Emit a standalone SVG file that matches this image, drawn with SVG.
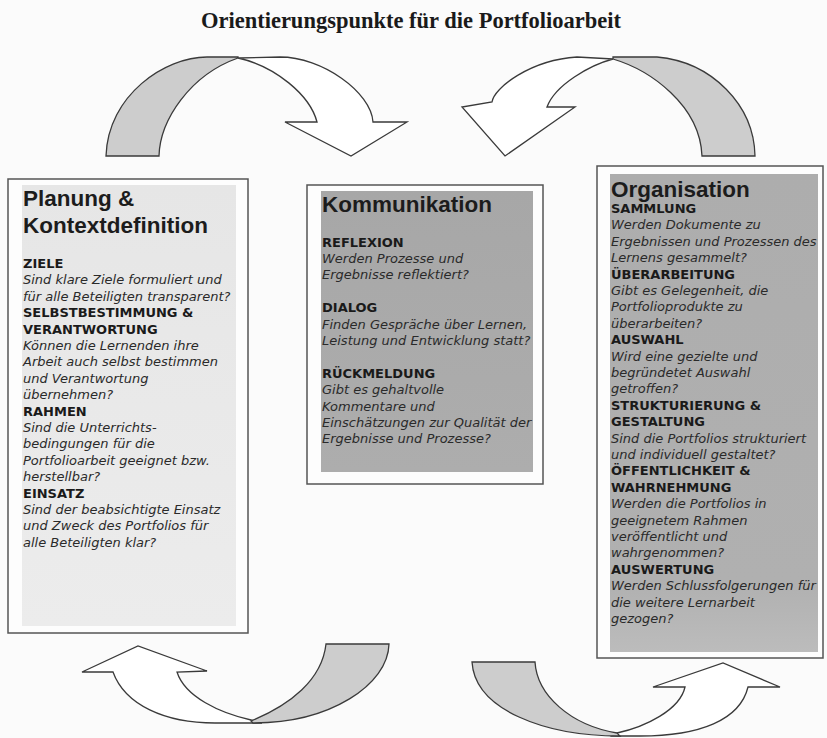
<svg xmlns="http://www.w3.org/2000/svg" width="827" height="738" viewBox="0 0 827 738">
<defs>
<style>
.title{font-family:"Liberation Serif","Times New Roman",serif;font-weight:bold;font-size:22.5px;fill:#1a1a1a}
.head{font-family:"Liberation Sans",Arial,sans-serif;font-weight:bold;font-size:22.5px;fill:#1c1c1c}
.sec{font-family:"DejaVu Sans",Verdana,sans-serif;font-weight:bold;font-size:13px;fill:#1a1a1a}
.q{font-family:"DejaVu Sans",Verdana,sans-serif;font-style:italic;font-size:13px;fill:#2a2a2a}
.frame{fill:#fdfdfd;stroke:#555;stroke-width:1.5}
.arrW{fill:#ffffff;stroke:#3a3a3a;stroke-width:1.3;stroke-linejoin:miter}
.arrG{fill:#cdcdcd;stroke:#3a3a3a;stroke-width:1.3;stroke-linejoin:miter}
</style>
<linearGradient id="gL" x1="0" y1="0" x2="0" y2="1">
<stop offset="0" stop-color="#e6e6e6"/><stop offset="1" stop-color="#ececec"/>
</linearGradient>
<linearGradient id="gM" x1="0" y1="0" x2="0" y2="1">
<stop offset="0" stop-color="#a7a7a7"/><stop offset="1" stop-color="#adadad"/>
</linearGradient>
<linearGradient id="gR" x1="0" y1="0" x2="0" y2="1">
<stop offset="0" stop-color="#adadad"/><stop offset="0.85" stop-color="#b0b0b0"/><stop offset="1" stop-color="#bcbcbc"/>
</linearGradient>
</defs>
<rect width="827" height="738" fill="#fbfbfb"/>
<text class="title" x="411" y="28" text-anchor="middle">Orientierungspunkte für die Portfolioarbeit</text>

<g id="connectors">
  <!-- top-left: Planung -> Kommunikation -->
  <path class="arrG" d="M106,156 L159,156 C160,120 190,75 238,58 L238,57 L207,57 C165,57 108,95 106,156 Z"/>
  <path class="arrW" d="M238,58 C275,66 310,95 317,122 L285,122 L351,156 L407,122 L373,122 C371,92 322,57 280,57 Z"/>
  <!-- top-right: Organisation -> Kommunikation -->
  <path class="arrG" d="M755,156 C754,105 712,62 657,57 L613,57 L613,59 C650,70 700,105 702,156 Z"/>
  <path class="arrW" d="M613,59 C590,65 555,85 547,107 L575,107 L505,156 L462,107 L492,102 C494,88 530,60 577,57 Z"/>
  <!-- bottom-left: -> Planung -->
  <path class="arrW" d="M251,720 C220,713 185,697 177,672 L207,671 L138,646 L82,672 L113,672 C125,705 165,723 215,723 L262,723 Z"/>
  <path class="arrG" d="M326,644 L389,644 C388,685 330,723 253,723 L251,721 C290,705 322,680 326,644 Z"/>
  <!-- bottom-right: -> Organisation -->
  <path class="arrW" d="M617,733 C645,727 680,710 685,687 L653,687 L723,663 L780,687 L748,687 C740,720 700,736 640,736 L612,736 Z"/>
  <path class="arrG" d="M472,662 L535,662 C537,695 570,725 617,733 L620,736 C545,736 475,710 472,662 Z"/>
</g>

<g id="planung">
  <rect class="frame" x="8" y="179" width="240" height="454"/>
  <rect x="22" y="185" width="214" height="441" fill="url(#gL)"/>
  <text class="head" x="23" y="206">Planung &amp;</text>
  <text class="head" x="23" y="233">Kontextdefinition</text>
  <text class="sec" x="23" y="268">ZIELE</text>
  <text class="q" x="23" y="284.4">Sind klare Ziele formuliert und</text>
  <text class="q" x="23" y="300.8">für alle Beteiligten transparent?</text>
  <text class="sec" x="23" y="317.2">SELBSTBESTIMMUNG &amp;</text>
  <text class="sec" x="23" y="333.6">VERANTWORTUNG</text>
  <text class="q" x="23" y="350">Können die Lernenden ihre</text>
  <text class="q" x="23" y="366.4">Arbeit auch selbst bestimmen</text>
  <text class="q" x="23" y="382.8">und Verantwortung</text>
  <text class="q" x="23" y="399.2">übernehmen?</text>
  <text class="sec" x="23" y="415.6">RAHMEN</text>
  <text class="q" x="23" y="432">Sind die Unterrichts-</text>
  <text class="q" x="23" y="448.4">bedingungen für die</text>
  <text class="q" x="23" y="464.8">Portfolioarbeit geeignet bzw.</text>
  <text class="q" x="23" y="481.2">herstellbar?</text>
  <text class="sec" x="23" y="497.6">EINSATZ</text>
  <text class="q" x="23" y="514">Sind der beabsichtigte Einsatz</text>
  <text class="q" x="23" y="530.4">und Zweck des Portfolios für</text>
  <text class="q" x="23" y="546.8">alle Beteiligten klar?</text>
</g>

<g id="kommunikation">
  <rect class="frame" x="307" y="185" width="236" height="299"/>
  <rect x="321" y="191" width="212" height="281" fill="url(#gM)"/>
  <text class="head" x="322" y="212">Kommunikation</text>
  <text class="sec" x="322" y="246.5">REFLEXION</text>
  <text class="q" x="322" y="262.9">Werden Prozesse und</text>
  <text class="q" x="322" y="279.3">Ergebnisse reflektiert?</text>
  <text class="sec" x="322" y="312.1">DIALOG</text>
  <text class="q" x="322" y="328.5">Finden Gespräche über Lernen,</text>
  <text class="q" x="322" y="344.9">Leistung und Entwicklung statt?</text>
  <text class="sec" x="322" y="377.7">RÜCKMELDUNG</text>
  <text class="q" x="322" y="394.1">Gibt es gehaltvolle</text>
  <text class="q" x="322" y="410.5">Kommentare und</text>
  <text class="q" x="322" y="426.9">Einschätzungen zur Qualität der</text>
  <text class="q" x="322" y="443.3">Ergebnisse und Prozesse?</text>
</g>

<g id="organisation">
  <rect class="frame" x="597" y="166" width="226" height="492"/>
  <rect x="610" y="174" width="208" height="478" fill="url(#gR)"/>
  <text class="head" x="611" y="196.5">Organisation</text>
  <text class="sec" x="611" y="213">SAMMLUNG</text>
  <text class="q" x="611" y="229.4">Werden Dokumente zu</text>
  <text class="q" x="611" y="245.8">Ergebnissen und Prozessen des</text>
  <text class="q" x="611" y="262.2">Lernens gesammelt?</text>
  <text class="sec" x="611" y="278.6">ÜBERARBEITUNG</text>
  <text class="q" x="611" y="295">Gibt es Gelegenheit, die</text>
  <text class="q" x="611" y="311.4">Portfolioprodukte zu</text>
  <text class="q" x="611" y="327.8">überarbeiten?</text>
  <text class="sec" x="611" y="344.2">AUSWAHL</text>
  <text class="q" x="611" y="360.6">Wird eine gezielte und</text>
  <text class="q" x="611" y="377">begründetet Auswahl</text>
  <text class="q" x="611" y="393.4">getroffen?</text>
  <text class="sec" x="611" y="409.8">STRUKTURIERUNG &amp;</text>
  <text class="sec" x="611" y="426.2">GESTALTUNG</text>
  <text class="q" x="611" y="442.6">Sind die Portfolios strukturiert</text>
  <text class="q" x="611" y="459">und individuell gestaltet?</text>
  <text class="sec" x="611" y="475.4">ÖFFENTLICHKEIT &amp;</text>
  <text class="sec" x="611" y="491.8">WAHRNEHMUNG</text>
  <text class="q" x="611" y="508.2">Werden die Portfolios in</text>
  <text class="q" x="611" y="524.6">geeignetem Rahmen</text>
  <text class="q" x="611" y="541">veröffentlicht und</text>
  <text class="q" x="611" y="557.4">wahrgenommen?</text>
  <text class="sec" x="611" y="573.8">AUSWERTUNG</text>
  <text class="q" x="611" y="590.2">Werden Schlussfolgerungen für</text>
  <text class="q" x="611" y="606.6">die weitere Lernarbeit</text>
  <text class="q" x="611" y="623">gezogen?</text>
</g>
</svg>
